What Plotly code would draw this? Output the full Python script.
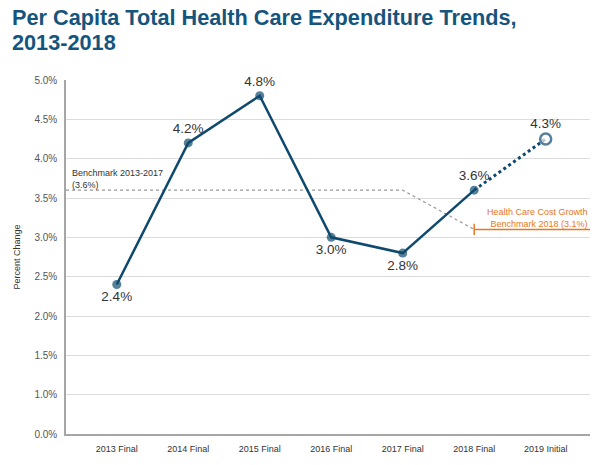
import plotly.graph_objects as go

categories = ["2013 Final", "2014 Final", "2015 Final", "2016 Final", "2017 Final", "2018 Final", "2019 Initial"]
values = [2.4, 4.2, 4.8, 3.0, 2.8, 3.6, 4.25]
value_labels = ["2.4%", "4.2%", "4.8%", "3.0%", "2.8%", "3.6%", "4.3%"]
label_pos = ["bottom center", "top center", "top center", "bottom center", "bottom center", "top center", "top center"]

y_tick_vals = [0.5, 1.0, 1.5, 2.0, 2.5, 3.0, 3.5, 4.0, 4.5, 5.0]
y_tick_text = ["0.0%", "1.0%", "1.5%", "2.0%", "2.5%", "3.0%", "3.5%", "4.0%", "4.5%", "5.0%"]

bench_1317 = 3.6
bench_2018 = 3.1

title_lines = ["Per Capita Total Health Care Expenditure Trends,", "2013-2018"]

X_MIN, X_MAX = -0.71, 6.62
NAVY = "#0f4a6e"
ORANGE = "#e87722"
FONT = "Liberation Sans"
idx = list(range(len(categories)))

L, T, R, B = 66, 80, 10, 31
W, H = 600, 465
PW, PH = W - L - R, H - T - B

fig = go.Figure()

fig.add_trace(go.Scatter(
    x=[X_MIN, 4, 5], y=[bench_1317, bench_1317, bench_2018],
    mode="lines", line=dict(color="#9a9a9a", width=1.2, dash="dot"),
    hoverinfo="skip", showlegend=False))

fig.add_trace(go.Scatter(
    x=[5, X_MAX], y=[bench_2018, bench_2018],
    mode="lines", line=dict(color=ORANGE, width=1.5),
    hoverinfo="skip", showlegend=False))
fig.add_trace(go.Scatter(
    x=[5], y=[bench_2018], mode="markers",
    marker=dict(symbol="line-ns", size=8, line=dict(color=ORANGE, width=1.5)),
    hoverinfo="skip", showlegend=False))

fig.add_trace(go.Scatter(
    x=idx[5:], y=values[5:], mode="lines",
    line=dict(color=NAVY, width=3, dash="dot"), showlegend=False))

fig.add_trace(go.Scatter(
    x=idx[:6], y=values[:6], mode="lines",
    line=dict(color=NAVY, width=2.5), showlegend=False))

fig.add_trace(go.Scatter(
    x=idx, y=values, mode="markers+text", cliponaxis=False,
    text=value_labels, textposition=label_pos,
    textfont=dict(size=13.5, color="#333333", family=FONT),
    marker=dict(size=[9, 9, 9, 9, 9, 9, 11],
                color=[NAVY] * 6 + ["white"],
                line=dict(color=NAVY, width=[0, 0, 0, 0, 0, 0, 2.5])),
    showlegend=False))

fig.add_annotation(x=X_MIN, y=bench_1317, xref="x", yref="y",
                   text="Benchmark 2013-2017<br>(3.6%)", showarrow=False,
                   xanchor="left", yanchor="bottom", xshift=4, yshift=-2, align="left",
                   font=dict(size=9, color="#333333", family=FONT))
fig.add_annotation(x=X_MAX, y=bench_2018, xref="x", yref="y",
                   text="Health Care Cost Growth<br>Benchmark 2018 (3.1%)", showarrow=False,
                   xanchor="right", yanchor="bottom", xshift=0, yshift=-2, align="right",
                   font=dict(size=9, color=ORANGE, family=FONT))

for line, ypx in zip(title_lines, [18, 43]):
    fig.add_annotation(x=(10 - L) / PW, y=(H - B - ypx) / PH, xref="paper", yref="paper",
                       text="<b>" + line + "</b>", showarrow=False, xanchor="left", yanchor="middle",
                       font=dict(size=21.7, color="#15557d", family=FONT))

fig.update_layout(
    width=W, height=H,
    margin=dict(l=L, r=R, t=T, b=B),
    paper_bgcolor="white", plot_bgcolor="white",
    font=dict(family=FONT, color="#333333"),
    xaxis=dict(range=[X_MIN, X_MAX], tickvals=idx, ticktext=categories,
               showgrid=False, zeroline=False, showline=True, linecolor="#a6a6a6", linewidth=1.5,
               ticks="", ticklabelstandoff=5,
               tickfont=dict(size=9, color="#333333"), fixedrange=True, automargin=False),
    yaxis=dict(range=[0.5, 5.0], tickvals=y_tick_vals, ticktext=y_tick_text,
               showgrid=True, gridcolor="#dcdcdc", gridwidth=1, zeroline=False,
               showline=True, linecolor="#a6a6a6", linewidth=1.5, ticks="",
               ticklabelstandoff=5, automargin=False,
               tickfont=dict(size=10, color="#555555"),
               title=dict(text="Percent Change", font=dict(size=9, color="#333333"), standoff=12)),
)

fig.write_html("out.html", config={"displayModeBar": False},
               post_script="document.body.style.margin='0';document.body.style.overflow='hidden';")
